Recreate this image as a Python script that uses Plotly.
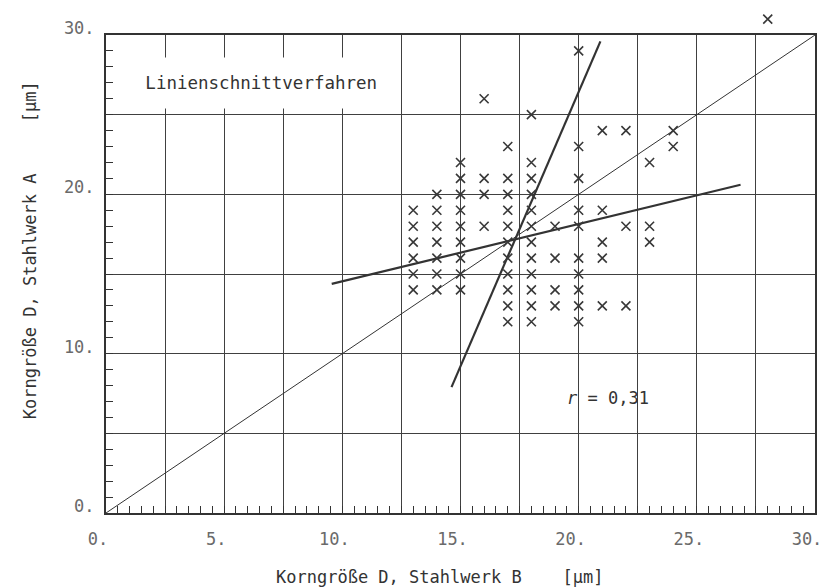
import plotly.graph_objects as go

# Scatter data (Korngröße B on x, A on y), read column by column
col_x = [13, 14, 15, 16, 17, 18, 19, 20, 21, 22, 23, 24, 28]
col_y = [
    [14, 15, 16, 17, 18, 19],
    [14, 15, 16, 17, 18, 19, 20],
    [14, 15, 16, 17, 18, 19, 20, 21, 22],
    [18, 20, 21, 26],
    [12, 13, 14, 15, 16, 17, 18, 19, 20, 21, 23],
    [12, 13, 14, 15, 16, 17, 18, 19, 20, 21, 22, 25],
    [13, 14, 16, 18],
    [12, 13, 14, 15, 16, 18, 19, 21, 23, 29],
    [13, 16, 17, 19, 24],
    [13, 18, 24],
    [17, 18, 22],
    [23, 24],
    [31],
]
pts = [(cx, y) for cx, ys in zip(col_x, col_y) for y in ys]

# Reference / regression lines
diag_x = [0, 30]
diag_y = [0, 30]
reg_y_on_x_x = [9.55, 26.85]
reg_y_on_x_y = [14.38, 20.6]
reg_x_on_y_x = [14.62, 20.92]
reg_x_on_y_y = [7.9, 29.6]

x_tickvals = [0, 2.5, 5, 7.5, 10, 12.5, 15, 17.5, 20, 22.5, 25, 27.5, 30]
x_ticktext = ["0.", "", "5.", "", "10.", "", "15.", "", "20.", "", "25.", "", "30."]
y_tickvals = [0, 5, 10, 15, 20, 25, 30]
y_ticktext = ["0.", "", "10.", "", "20.", "", "30."]

AX_MAX = 30
in_x = [p[0] for p in pts if p[1] <= AX_MAX]
in_y = [p[1] for p in pts if p[1] <= AX_MAX]
out_x = [p[0] for p in pts if p[1] > AX_MAX]
out_y = [p[1] for p in pts if p[1] > AX_MAX]

# geometry: page body adds an 8px offset
M_L, M_R, M_T, M_B = 98, 20, 3, 83
H = 588
paper_h = H - M_T - M_B          # 502 px, viewport 11..513
box_h = 478                      # plot box viewport 35..513
main_top = box_h / paper_h
y2_max = AX_MAX * paper_h / box_h

ink = "#333333"
grid = "#404040"
gray_txt = "#6a6a6a"
mono = "DejaVu Sans Mono, Liberation Mono, monospace"
mk = dict(symbol="x-thin", size=9, line=dict(color="#383838", width=1.6))

fig = go.Figure()
fig.add_trace(go.Scatter(x=diag_x, y=diag_y, mode="lines",
                         line=dict(color=ink, width=1), showlegend=False))
fig.add_trace(go.Scatter(x=reg_y_on_x_x, y=reg_y_on_x_y, mode="lines",
                         line=dict(color=ink, width=2.2), showlegend=False))
fig.add_trace(go.Scatter(x=reg_x_on_y_x, y=reg_x_on_y_y, mode="lines",
                         line=dict(color=ink, width=2.2), showlegend=False))
fig.add_trace(go.Scatter(x=in_x, y=in_y, mode="markers", marker=mk, showlegend=False))
# point lying above the plot frame, drawn on a taller twin scale with identical px/unit
fig.add_trace(go.Scatter(x=out_x, y=out_y, mode="markers", marker=mk, showlegend=False,
                         xaxis="x2", yaxis="y2"))

tickfont = dict(family=mono, size=17, color=gray_txt)
fig.update_layout(
    xaxis=dict(range=[0, AX_MAX], domain=[0, 1], tickmode="array", tickvals=x_tickvals,
               ticktext=x_ticktext, showgrid=True, gridcolor=grid, gridwidth=1.4,
               zeroline=False, showline=True, linecolor=ink, linewidth=2, mirror=True,
               ticks="inside", ticklen=7, tickcolor=ink, tickfont=tickfont, automargin=False,
               ticklabelshift=-8, ticklabelstandoff=10, ticklabeloverflow="allow",
               minor=dict(dtick=0.5, ticks="inside", ticklen=7, tickcolor=ink, showgrid=False)),
    yaxis=dict(range=[0, AX_MAX], domain=[0, main_top], tickmode="array", tickvals=y_tickvals,
               ticktext=y_ticktext, showgrid=True, gridcolor=grid, gridwidth=1.4,
               zeroline=False, showline=True, linecolor=ink, linewidth=2, mirror=True,
               ticks="inside", ticklen=7, tickcolor=ink, tickfont=tickfont, automargin=False,
               ticklabelshift=-7, ticklabelstandoff=6, ticklabeloverflow="allow",
               minor=dict(dtick=1, ticks="inside", ticklen=7, tickcolor=ink, showgrid=False)),
    xaxis2=dict(range=[0, AX_MAX], domain=[0, 1], anchor="y2", visible=False,
                showgrid=False, zeroline=False, automargin=False),
    yaxis2=dict(range=[0, y2_max], domain=[0, 1], anchor="x2", visible=False,
                showgrid=False, zeroline=False, automargin=False),
)

title_font = dict(family=mono, size=17, color="#333333")
nb = "\u00a0"
fig.add_annotation(x=0.471, y=(513 - 577) / paper_h, xref="paper", yref="paper",
                   text="Korngröße D, Stahlwerk B" + nb * 4 + "[µm]",
                   showarrow=False, font=title_font, xanchor="center", yanchor="middle")
fig.add_annotation(x=-0.107, y=(513 - 250) / paper_h, xref="paper", yref="paper", textangle=-90,
                   text="Korngröße D, Stahlwerk A" + nb * 5 + "[µm]",
                   showarrow=False, font=title_font, xanchor="center", yanchor="middle")
fig.add_annotation(x=6.35, y=27.0, xref="x", yref="y", text=nb * 1 + "Linienschnittverfahren",
                   showarrow=False, font=dict(family=mono, size=17.5, color="#333333"),
                   bgcolor="white", width=282, height=48)
fig.add_annotation(x=21.25, y=7.2, xref="x", yref="y", text="<i>r</i> = 0,31",
                   showarrow=False, font=dict(family=mono, size=17, color="#333333"))

fig.update_layout(width=827, height=H, paper_bgcolor="white", plot_bgcolor="rgba(0,0,0,0)",
                  margin=dict(l=M_L, r=M_R, t=M_T, b=M_B, autoexpand=False))

fig.write_html("out.html")
